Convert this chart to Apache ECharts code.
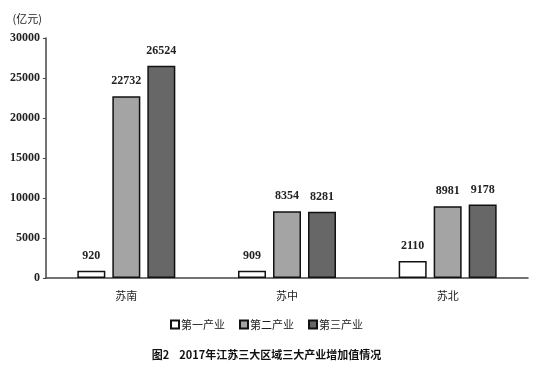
<!DOCTYPE html>
<html>
<head>
<meta charset="utf-8">
<script src="https://cdn.jsdelivr.net/npm/echarts@6/dist/echarts.min.js"></script>
<style>
  html, body { margin: 0; padding: 0; background: #fff; }
  #chart { width: 533px; height: 366px; }
</style>
</head>
<body>
<div id="chart"></div>
<script>
// Regions and value added per industry (100 million yuan)
const regions = ['苏南', '苏中', '苏北'];
const primary = [920, 909, 2110];
const secondary = [22732, 8354, 8981];
const tertiary = [26524, 8281, 9178];
const seriesNames = ['第一产业', '第二产业', '第三产业'];
const yTicks = { min: 0, max: 30000, interval: 5000 };

const serif = '"Times New Roman", "Liberation Serif", serif';
const cjk = 'Noto Sans CJK SC';

const fills = ['#ffffff', '#a4a4a4', '#676767'];
const values = [primary, secondary, tertiary];

const chart = echarts.init(document.getElementById('chart'));
chart.setOption({
  animation: false,
  backgroundColor: '#ffffff',
  title: {
    text: '图2    2017年江苏三大区域三大产业增加值情况',
    left: 'center',
    top: 344,
    textStyle: { fontFamily: cjk, fontSize: 11, fontWeight: 'bold', color: '#111' }
  },
  legend: {
    data: seriesNames,
    top: 314,
    left: 'center',
    itemWidth: 8,
    itemHeight: 8,
    itemGap: 14,
    icon: 'rect',
    textStyle: { fontFamily: cjk, fontSize: 11, color: '#222', padding: [0, 0, 0, -3] }
  },
  grid: { left: 46, right: 5, top: 38, bottom: 88 },
  xAxis: {
    type: 'category',
    data: regions,
    axisLine: { lineStyle: { color: '#444', width: 1.5 } },
    axisTick: { show: false },
    axisLabel: { fontFamily: cjk, fontSize: 11, color: '#222', margin: 12 }
  },
  yAxis: {
    type: 'value',
    min: yTicks.min,
    max: yTicks.max,
    interval: yTicks.interval,
    name: '(亿元)',
    nameLocation: 'end',
    nameGap: 14,
    nameTextStyle: { fontFamily: cjk, fontSize: 11, color: '#222', align: 'right', padding: [0, 4, 0, 0] },
    axisLine: { show: true, lineStyle: { color: '#444', width: 1.5 } },
    axisTick: { show: true, length: 3, lineStyle: { color: '#444' } },
    splitLine: { show: false },
    axisLabel: {
      fontFamily: serif, fontSize: 12, fontWeight: 'bold', color: '#222', margin: 6,
      formatter: v => String(v)
    }
  },
  series: seriesNames.map((name, i) => ({
    name,
    type: 'bar',
    data: values[i],
    barWidth: 28,
    barGap: '25%',
    itemStyle: { color: fills[i], borderColor: '#111', borderWidth: 1.5 },
    label: {
      show: true,
      position: 'top',
      distance: 9,
      fontFamily: serif,
      fontSize: 12,
      fontWeight: 'bold',
      color: '#222'
    }
  }))
});
</script>
</body>
</html>
